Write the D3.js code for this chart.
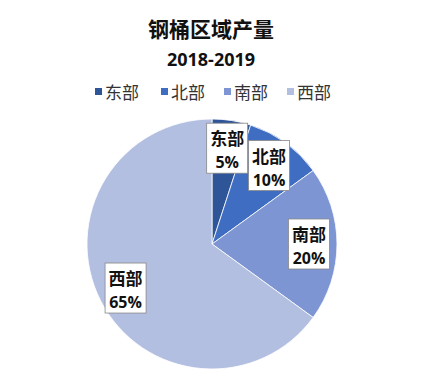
<!DOCTYPE html>
<html><head><meta charset="utf-8">
<script src="https://cdn.jsdelivr.net/npm/d3@7"></script>
<style>body{margin:0;background:#fff}</style>
</head><body>
<svg id="c" width="422" height="381"></svg>
<script>
const categories = ["东部", "北部", "南部", "西部"];
const values = [5, 10, 20, 65];
const labels = ["5%", "10%", "20%", "65%"];
const colors = ["#2E5597", "#3F6DC1", "#7D95D3", "#B3BFE1"];
const title = "钢桶区域产量";
const subtitle = "2018-2019";

const svg = d3.select("#c");
const font = "'Noto Sans CJK SC', 'Noto Sans', sans-serif";
svg.append("text").attr("x", 211).attr("y", 37).attr("text-anchor", "middle")
  .attr("font-family", font).attr("font-weight", "bold").attr("font-size", 21).attr("fill", "#111").text(title);
svg.append("text").attr("x", 211).attr("y", 66).attr("text-anchor", "middle")
  .attr("font-family", "'Open Sans', 'Noto Sans', sans-serif").attr("font-weight", "bold").attr("font-size", 18).attr("fill", "#111").text(subtitle);

// legend
const legendX = [95, 161, 224, 287];
const lg = svg.append("g");
categories.forEach((c, i) => {
  lg.append("rect").attr("x", legendX[i]).attr("y", 88).attr("width", 7).attr("height", 7).attr("fill", colors[i]);
  lg.append("text").attr("x", legendX[i] + 10).attr("y", 99).attr("font-family", font)
    .attr("font-size", 17).attr("fill", "#333").text(c);
});

const cx = 212, cy = 244, R = 125;
const pie = d3.pie().sort(null).value(d => d)(values);
const arc = d3.arc().innerRadius(0).outerRadius(R);
const labelArc = d3.arc().innerRadius(97).outerRadius(97);
const g = svg.append("g").attr("transform", `translate(${cx},${cy})`);
g.selectAll("path").data(pie).join("path").attr("d", arc)
  .attr("fill", (d, i) => colors[i]).attr("stroke", "#fff").attr("stroke-width", 0.8);

pie.forEach((d, i) => {
  const [x, y] = labelArc.centroid(d);
  const lgp = g.append("g").attr("transform", `translate(${x},${y})`);
  const w = 41, h = 50;
  lgp.append("rect").attr("x", -w / 2).attr("y", -h / 2).attr("width", w).attr("height", h)
    .attr("fill", "#fff").attr("stroke", "#888").attr("stroke-width", 0.8);
  lgp.append("text").attr("x", 0).attr("y", -3).attr("text-anchor", "middle").attr("font-family", font)
    .attr("font-weight", "bold").attr("font-size", 17).attr("fill", "#111").text(categories[i]);
  lgp.append("text").attr("x", 0).attr("y", 20).attr("text-anchor", "middle").attr("font-family", "'Open Sans', sans-serif")
    .attr("font-weight", "bold").attr("font-size", 16).attr("fill", "#111").text(labels[i]);
});
</script>
</body></html>
